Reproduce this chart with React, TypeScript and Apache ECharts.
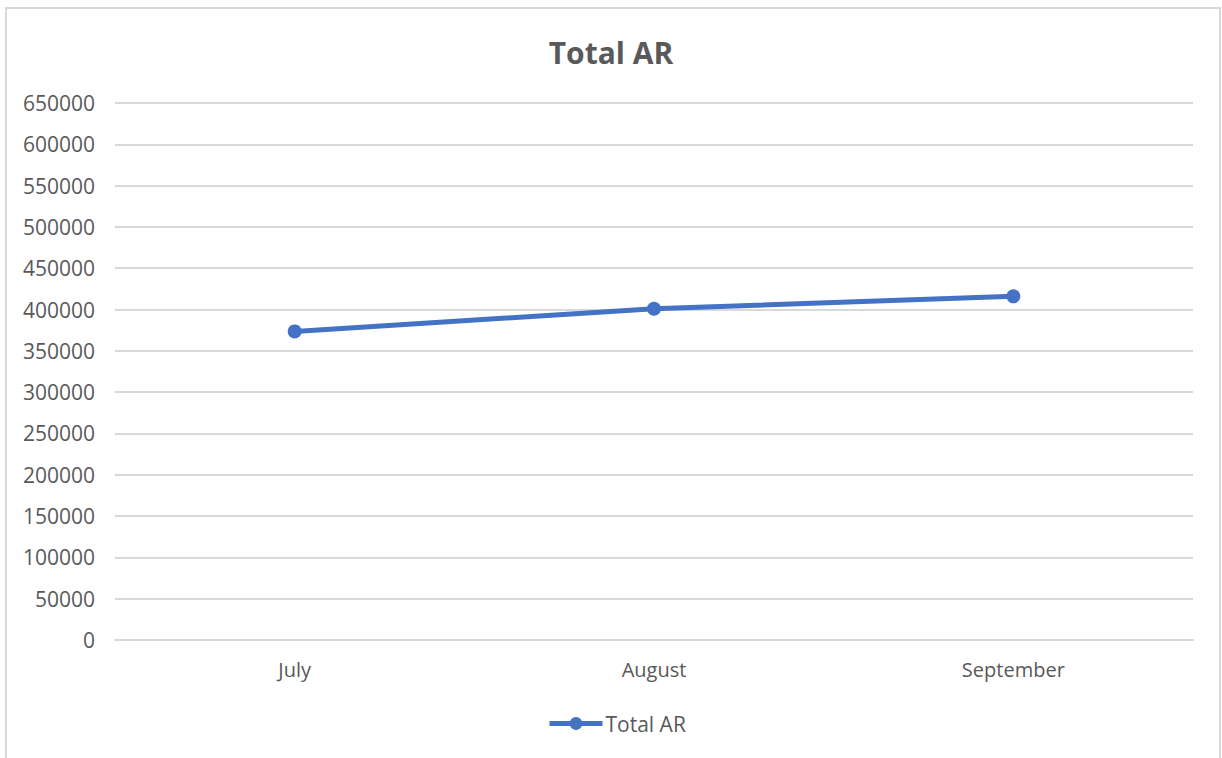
import React, { useEffect, useRef } from "react";
import * as echarts from "echarts";

const categories = ["July", "August", "September"];
const totalAR = [373500, 401000, 416000];
const seriesName = "Total AR";
const titleText = "Total AR";

export default function App() {
  const ref = useRef<HTMLDivElement>(null);
  useEffect(() => {
    document.body.style.margin = "0";
    const chart = echarts.init(ref.current!, null, { renderer: "svg" });
    const font = "'Open Sans', 'Liberation Sans', sans-serif";
    chart.setOption({
      animation: false,
      backgroundColor: "#ffffff",
      title: {
        text: titleText,
        left: "center",
        top: 32,
        textStyle: { fontFamily: font, fontSize: 30, fontWeight: "bold", color: "#595959" },
      },
      graphic: [
        {
          type: "rect",
          shape: { x: 6, y: 8, width: 1214, height: 770 },
          style: { fill: "none", stroke: "#d9d9d9", lineWidth: 2 },
          silent: true,
        },
      ],
      legend: {
        data: [seriesName],
        left: 542,
        top: 708,
        itemWidth: 53,
        itemHeight: 16,
        itemGap: 4,
        lineStyle: { width: 5 },
        textStyle: { fontFamily: font, fontSize: 21, color: "#595959", padding: [0, 0, 0, -2] },
      },
      grid: { left: 115, right: 29, top: 103, bottom: 118, containLabel: false },
      xAxis: {
        type: "category",
        data: categories,
        boundaryGap: true,
        axisLine: { show: true, lineStyle: { color: "#d9d9d9", width: 2 } },
        axisTick: { show: false },
        axisLabel: { fontFamily: font, fontSize: 20, color: "#595959", margin: 19 },
      },
      yAxis: {
        type: "value",
        min: 0,
        max: 650000,
        interval: 50000,
        axisLine: { show: false },
        axisTick: { show: false },
        axisLabel: {
          fontFamily: font,
          fontSize: 21,
          color: "#595959",
          margin: 20,
          formatter: (v: number) => String(v),
        },
        splitLine: { lineStyle: { color: "#d9d9d9", width: 2 } },
      },
      series: [
        {
          name: seriesName,
          type: "line",
          data: totalAR,
          symbol: "circle",
          symbolSize: 14,
          lineStyle: { color: "#4472C4", width: 5 },
          itemStyle: { color: "#4472C4" },
        },
      ],
    });
    return () => chart.dispose();
  }, []);
  return (
    <div
      ref={ref}
      style={{ position: "fixed", left: 0, top: 0, width: 1222, height: 758 }}
    />
  );
}
